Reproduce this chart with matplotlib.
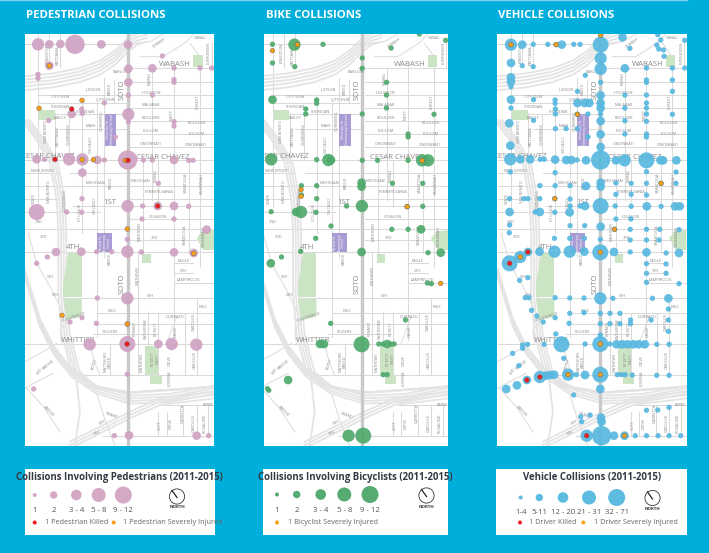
import matplotlib
matplotlib.use("Agg")
import numpy as np
import matplotlib.pyplot as plt
from matplotlib.patches import Rectangle, Polygon, Circle

W, H = 709, 553
BLUE = "#00aedb"
STREET = "#dadada"
FREEWAY = "#e4e4e4"
SOTO = "#c9c9c9"
PARK = "#cbe4c3"
SCHOOL = "#a99bd3"
LABEL = "#8c8c8c"
RED = "#f01c24"
ORANGE = "#f7a11a"

plt.rcParams["font.family"] = ["Open Sans", "DejaVu Sans"]

# point radius by collision bucket, in map units (1/3 pixel)
RADIUS = {1: 8, 2: 13, 3: 18.5, 4: 24, 5: 29}

# ---- collisions: (x, y, bucket) -------------------------------------------
ped_points = [
    (54, 133, 3), (88, 133, 2), (121, 132, 2), (165, 133, 5), (244, 133, 2), (324, 134, 2),
    (427, 168, 1), (88, 197, 2), (54, 223, 1), (54, 235, 1), (325, 206, 2), (397, 205, 2),
    (462, 204, 1), (540, 204, 1), (575, 204, 1), (325, 247, 2), (462, 239, 1), (462, 247, 1),
    (325, 286, 1), (397, 285, 1), (253, 309, 1), (185, 327, 1), (155, 342, 2), (187, 340, 1),
    (325, 343, 3), (325, 365, 1), (86, 361, 1), (462, 365, 1), (462, 378, 1), (286, 411, 1),
    (50, 478, 2), (73, 478, 1), (105, 478, 1), (147, 478, 3), (187, 478, 3), (232, 480, 2),
    (253, 480, 1), (323, 480, 5), (370, 480, 1), (397, 480, 1), (462, 480, 2), (506, 481, 1),
    (519, 481, 1), (187, 518, 2), (415, 550, 1), (186, 596, 1), (50, 636, 4), (140, 636, 1),
    (185, 637, 1), (323, 618, 3), (368, 618, 1), (413, 618, 2), (462, 618, 2), (506, 619, 1),
    (366, 657, 1), (462, 657, 1), (560, 689, 2), (322, 718, 1), (108, 756, 2), (184, 755, 2),
    (230, 755, 1), (275, 755, 1), (322, 755, 3), (364, 756, 1), (462, 757, 2), (521, 759, 2),
    (82, 771, 1), (50, 790, 1), (232, 894, 1), (322, 895, 3), (186, 953, 1), (150, 966, 1),
    (229, 970, 1), (322, 972, 1), (209, 1033, 3), (322, 1032, 4), (415, 1032, 2), (455, 1032, 3),
    (529, 1034, 3), (322, 1123, 1), (41, 1167, 1), (283, 1307, 1), (327, 1306, 2), (530, 1307, 2),
    (566, 1307, 1),
]
ped_injured = [(88, 197), (186, 301), (57, 325), (186, 479), (220, 479), (316, 481), (322, 687),
               (521, 760), (126, 946), (322, 972)]
ped_killed = [(155, 327), (105, 478), (324, 481), (413, 618), (321, 1032)]

bike_points = [
    (37, 133, 1), (103, 134, 3), (189, 133, 1), (558, 121, 1), (479, 102, 1), (394, 144, 1),
    (37, 189, 1), (104, 200, 1), (307, 174, 1), (307, 205, 1), (380, 247, 1), (380, 285, 1),
    (380, 324, 1), (37, 299, 2), (170, 300, 1), (170, 310, 1), (137, 327, 1), (137, 342, 1),
    (307, 342, 1), (523, 343, 1), (445, 402, 1), (445, 411, 1), (33, 478, 3), (170, 479, 1),
    (205, 480, 3), (213, 480, 2), (307, 481, 1), (353, 481, 1), (445, 481, 1), (487, 481, 3),
    (505, 481, 3), (305, 548, 2), (305, 560, 2), (398, 550, 1), (489, 550, 1), (124, 557, 1),
    (170, 557, 1), (124, 585, 1), (170, 596, 1), (33, 635, 1), (108, 636, 2), (123, 636, 3),
    (168, 637, 1), (260, 618, 1), (306, 618, 3), (442, 620, 1), (489, 619, 1), (213, 678, 1),
    (167, 715, 1), (396, 688, 1), (445, 688, 1), (484, 688, 2), (122, 754, 1), (64, 771, 1),
    (32, 790, 2), (305, 756, 2), (505, 758, 1), (543, 758, 2), (503, 849, 1), (515, 851, 1),
    (212, 970, 1), (437, 960, 1), (180, 1032, 2), (192, 1032, 2), (305, 1033, 4), (357, 1032, 1),
    (370, 1032, 1), (382, 1032, 2), (393, 1032, 1), (403, 1032, 1), (370, 1124, 1), (382, 1124, 1),
    (84, 1140, 2), (22, 1166, 1), (26, 1171, 1), (266, 1307, 3), (310, 1307, 4),
]
bike_injured = [(37, 152), (112, 134), (123, 569), (123, 589), (442, 620), (487, 482), (543, 850)]

veh_points = [
    (62, 134, 3), (96, 134, 2), (129, 133, 1), (173, 133, 1), (198, 134, 1), (215, 134, 2),
    (251, 133, 1), (270, 133, 1), (332, 134, 4), (332, 105, 1), (398, 112, 2), (504, 104, 1),
    (513, 120, 1), (585, 121, 1), (420, 145, 1), (501, 135, 1), (507, 147, 1), (521, 150, 1),
    (523, 169, 1), (332, 175, 3), (332, 207, 3), (62, 189, 2), (96, 197, 1), (129, 200, 1),
    (405, 205, 2), (470, 204, 1), (548, 204, 1), (585, 204, 1), (62, 232, 2), (62, 245, 2),
    (62, 260, 1), (286, 226, 1), (332, 247, 1), (470, 240, 1), (470, 247, 1), (548, 240, 1),
    (262, 274, 1), (405, 285, 1), (470, 285, 1), (548, 274, 1), (332, 286, 2), (62, 299, 2),
    (130, 299, 1), (195, 300, 1), (195, 310, 1), (262, 309, 2), (284, 309, 2), (298, 309, 2),
    (332, 309, 2), (332, 324, 2), (405, 324, 1), (470, 309, 1), (470, 324, 1), (62, 324, 1),
    (196, 327, 1), (196, 342, 1), (262, 343, 1), (294, 342, 1), (332, 342, 1), (470, 342, 1),
    (548, 343, 1), (130, 361, 1), (332, 363, 2), (405, 362, 1), (470, 364, 1), (57, 370, 2),
    (196, 386, 1), (228, 386, 1), (262, 386, 1), (332, 403, 2), (405, 402, 1), (470, 402, 1),
    (470, 411, 1), (294, 411, 1), (60, 437, 2), (332, 441, 2), (60, 478, 3), (90, 478, 2),
    (120, 478, 2), (150, 478, 1), (162, 478, 1), (195, 479, 2), (228, 480, 2), (244, 480, 2),
    (261, 480, 1), (288, 481, 2), (332, 480, 5), (378, 481, 2), (404, 481, 3), (470, 481, 4),
    (520, 481, 2), (512, 481, 2), (560, 481, 2), (470, 515, 1), (559, 516, 1), (60, 516, 1),
    (195, 518, 1), (332, 548, 2), (332, 560, 2), (378, 549, 1), (424, 550, 1), (470, 550, 1),
    (514, 550, 1), (559, 550, 1), (149, 557, 1), (195, 557, 1), (240, 557, 1), (288, 558, 2),
    (378, 583, 1), (424, 583, 1), (470, 585, 1), (58, 596, 1), (101, 596, 1), (113, 596, 1),
    (149, 596, 1), (194, 596, 1), (240, 597, 1), (240, 618, 1), (332, 618, 4), (376, 618, 1),
    (424, 619, 1), (471, 619, 2), (514, 619, 1), (556, 619, 2), (570, 619, 2), (58, 636, 2),
    (135, 636, 1), (149, 636, 2), (194, 637, 1), (239, 637, 2), (270, 618, 1), (285, 618, 2),
    (378, 657, 1), (423, 657, 1), (58, 675, 1), (240, 677, 1), (284, 677, 1), (332, 680, 2),
    (374, 688, 1), (57, 698, 1), (193, 715, 1), (239, 715, 1), (283, 715, 1), (331, 718, 1),
    (421, 688, 1), (470, 688, 1), (510, 688, 1), (568, 689, 1), (421, 720, 1), (470, 720, 1),
    (508, 720, 1), (58, 790, 4), (90, 771, 3), (113, 756, 2), (148, 755, 2), (193, 755, 3),
    (239, 755, 3), (283, 755, 2), (331, 757, 4), (372, 756, 2), (421, 756, 1), (470, 757, 2),
    (529, 759, 1), (568, 759, 2), (470, 791, 1), (529, 792, 1), (470, 820, 1), (529, 820, 1),
    (470, 847, 1), (568, 851, 1), (88, 841, 1), (113, 833, 1), (105, 893, 1), (116, 893, 1),
    (195, 893, 1), (239, 894, 1), (282, 894, 1), (331, 895, 3), (369, 895, 1), (488, 895, 1),
    (536, 895, 2), (536, 927, 1), (124, 931, 1), (140, 948, 1), (159, 966, 1), (195, 953, 1),
    (239, 940, 1), (282, 938, 1), (331, 940, 1), (360, 940, 1), (390, 940, 1), (422, 960, 1),
    (422, 971, 1), (484, 960, 1), (536, 960, 1), (237, 970, 1), (331, 971, 1), (360, 971, 1),
    (390, 971, 1), (536, 994, 1), (197, 1002, 1), (331, 1005, 1), (97, 1035, 1), (97, 1045, 1),
    (112, 1033, 1), (162, 1033, 1), (214, 1033, 4), (285, 1032, 1), (331, 1032, 4), (360, 1032, 1),
    (380, 1033, 2), (397, 1033, 2), (413, 1033, 2), (430, 1033, 2), (447, 1033, 2), (465, 1033, 2),
    (501, 1033, 1), (538, 1033, 1), (67, 1060, 1), (86, 1097, 1), (221, 1075, 1), (48, 1167, 2),
    (80, 1156, 2), (110, 1140, 2), (149, 1131, 3), (167, 1127, 2), (180, 1125, 2), (192, 1124, 2),
    (234, 1124, 3), (259, 1124, 1), (285, 1125, 2), (331, 1124, 4), (382, 1124, 1), (394, 1124, 1),
    (406, 1124, 1), (427, 1125, 1), (501, 1126, 1), (538, 1126, 1), (331, 1167, 2), (251, 1185, 1),
    (470, 1231, 1), (504, 1230, 1), (538, 1222, 1), (272, 1250, 1), (275, 1265, 1), (300, 1245, 1),
    (333, 1253, 2), (335, 1265, 2), (290, 1307, 3), (335, 1307, 5), (372, 1307, 2), (404, 1307, 2),
    (436, 1307, 1), (470, 1307, 1), (505, 1307, 1), (538, 1307, 1), (573, 1307, 1),
]
veh_injured = [(62, 134), (198, 134), (332, 105), (262, 343), (514, 550), (194, 596), (374, 688),
               (90, 771), (331, 757), (331, 1032), (234, 1124), (331, 1124), (404, 1307)]
veh_killed = [(58, 790), (113, 756), (149, 1131), (110, 1140), (290, 1307)]

# ---- base map, in the pedestrian panel's units ------------------------------
h_streets = [
    (133, 14, 340), (204, 310, 582), (247, 330, 582), (285, 54, 320), (285, 330, 582),
    (309, 54, 320), (324, 330, 582), (342, 54, 320), (362, 330, 582), (386, 120, 320),
    (403, 330, 582), (441, 330, 582), (480, 14, 582), (518, 14, 120), (518, 150, 582),
    (557, 14, 582), (596, 14, 110), (596, 330, 582), (618, 160, 582), (636, 14, 240),
    (657, 330, 582), (688, 14, 582), (720, 330, 582), (755, 14, 582), (790, 462, 520),
    (820, 462, 520), (850, 462, 582), (895, 130, 582), (940, 232, 582), (971, 232, 582),
    (1003, 220, 410), (1033, 14, 582), (1125, 160, 582), (1307, 250, 582), (1215, 430, 582),
]
v_streets = [
    (54, 102, 620), (88, 102, 200), (121, 102, 200), (105, 340, 480), (147, 345, 480),
    (187, 300, 700), (232, 300, 1010), (253, 235, 770), (282, 240, 310), (370, 480, 760),
    (397, 205, 600), (415, 480, 620), (462, 190, 1020), (506, 480, 760), (540, 190, 480),
    (540, 480, 800), (575, 130, 205), (353, 755, 1125), (385, 935, 1125), (415, 940, 1125),
    (495, 940, 1125), (530, 895, 1125), (415, 1235, 1307), (440, 1235, 1307), (490, 1215, 1307),
    (530, 1215, 1307), (565, 1215, 1307), (270, 1033, 1125),
]
diagonal_streets = [
    ([340, 390, 430], [130, 125, 102]),
    ([360, 430, 500, 520], [170, 170, 125, 102]),
    ([510, 540], [130, 170]),
    ([25, 50, 90, 130], [700, 790, 860, 940]),
    ([14, 60, 110], [1085, 1060, 1030]),
    ([20, 70, 120], [1165, 1220, 1295]),
    ([14, 60, 100], [1165, 1140, 1120]),
    ([230, 255, 285], [1180, 1260, 1338]),
    ([470, 455, 440], [950, 990, 1030]),
    ([145, 120, 125], [960, 990, 1030]),
    ([210, 225, 240], [1035, 1090, 1125]),
]
freeway_top_x = [14, 100, 180, 240, 285, 320, 350, 380]
freeway_top_y = [247, 238, 222, 200, 170, 135, 110, 102]
freeway_top_offsets = [-18, -8, 2, 12, 24]
freeway_left_x = [14, 60, 100, 120, 125, 125, 135, 165, 215, 330, 582]
freeway_left_y = [360, 420, 490, 600, 700, 880, 1000, 1115, 1160, 1178, 1160]
freeway_left_offsets = [-10, -2, 6, 14]
freeway_low_x = [14, 60, 100, 155, 230, 330, 450, 582]
freeway_low_y = [815, 965, 1045, 1115, 1165, 1195, 1190, 1165]
freeway_low_offsets = [-8, 0, 8, 16]
freeway_south_x = [150, 230, 330, 420, 582]
freeway_south_y = [1335, 1295, 1245, 1205, 1185]
freeway_south_offsets = [-10, 0, 10]
ramp_x = [165, 180, 165]
ramp_y = [1105, 1235, 1335]

parks = [
    [(57, 330), (104, 330), (104, 360), (57, 360)],
    [(520, 165), (548, 165), (548, 200), (520, 200)],
    [(145, 760), (185, 760), (185, 890), (130, 890), (130, 855)],
    [(130, 897), (185, 897), (185, 950), (140, 960)],
    [(366, 763), (392, 763), (392, 790), (366, 790)],
    [(530, 715), (545, 695), (582, 690), (582, 750), (550, 750)],
    [(375, 1037), (415, 1037), (415, 1125), (375, 1125)],
    [(390, 1127), (425, 1127), (425, 1153), (390, 1153)],
]
schools = [
    (254, 342, 34, 95, "Sheridan St\nElementary School"),
    (232, 699, 44, 56, "Breed St\nElementary\nSchool"),
]
# (x, y, text, rotation)
small_labels = [
    (540, 113, "CANAL", 0), (418, 130, "PENNSY", 35), (303, 217, "BARLOW", 0), (220, 267, "JUDSON", 0),
    (121, 292, "CITY VIEW", 0), (257, 301, "CITY VIEW", 0), (122, 320, "SHERIDAN", 0),
    (197, 335, "SHERIDAN", 0), (120, 354, "BAILEY", 0), (212, 378, "MAIN", 0), (393, 278, "HOUSTON", 0),
    (393, 316, "MALABAR", 0), (393, 355, "BOULDER", 0), (530, 370, "BOULDER", 0), (393, 394, "FOLSOM", 0),
    (530, 402, "FOLSOM", 0), (393, 433, "CINCINNATI", 0), (527, 436, "CINCINNATI", 0),
    (225, 550, "MICHIGAN", 0), (362, 542, "MICHIGAN", 0), (416, 576, "PENNSYLVANIA", 0),
    (414, 650, "GLEASON", 0), (66, 510, "NEW JERSEY", 0), (55, 667, "2ND", 0), (403, 713, "3RD", 0),
    (390, 887, "6TH", 0), (277, 932, "INEZ", 0), (548, 920, "INEZ", 0), (465, 952, "DUBRAZO", 0),
    (270, 997, "ROGERS", 0), (490, 784, "EAGLE", 0), (490, 813, "5TH", 0), (505, 841, "LAMPWOOD", 0),
    (90, 832, "5TH", 0), (105, 886, "6TH", 0), (72, 711, "3RD", 0), (160, 950, "HOLLENBECK", 18),
    (85, 1095, "BRIDGE", 40), (60, 1115, "3RD", 60), (85, 1235, "BRIDGE", -45), (246, 1266, "6TH", 30),
    (275, 1245, "GRAND", -20), (232, 1298, "6TH", 15), (563, 1215, "FARM", 0),
    (82, 160, "KINGSTON", 90), (113, 165, "BRITTANIA", 90), (270, 265, "BREED", 90), (390, 235, "EWING", 90),
    (455, 345, "MOTT", 90), (533, 307, "FOREST", 90), (567, 160, "EVERGREEN", 90), (78, 395, "SAN BENITO", 90),
    (113, 410, "BRITTANIA", 90), (147, 403, "CUMMINGS", 90), (212, 432, "CHICAGO", 90), (245, 360, "CORNWELL", 90),
    (272, 548, "BREED", 90), (408, 525, "EWING", 90), (497, 548, "SARATOGA", 90), (545, 550, "SAVANNAH", 90),
    (42, 595, "STATE", 90), (87, 575, "SAN BENITO", 90), (135, 600, "CUMMINGS", 90), (224, 615, "CHICAGO", 90),
    (179, 637, "ST LOUIS", 90), (358, 695, "MATHEWS", 90), (493, 705, "SARATOGA", 90), (552, 710, "SAVANNAH", 90),
    (268, 775, "BREED", 90), (353, 825, "MATHEWS", 90), (345, 985, "PENNSY", 90), (376, 985, "KATHERINE", 90),
    (407, 985, "FICKETT", 90), (466, 995, "DRIVE", 90), (520, 965, "CAROLUS", 90), (365, 1087, "MATHEWS", 90),
    (398, 1075, "FICKETT", 90), (413, 1075, "MOTT", 90), (448, 1080, "DRIVE", 90), (523, 1080, "CAROLUS", 90),
    (258, 1085, "MATTHEWS", 90), (270, 1085, "BREED", 90), (224, 1090, "BOYLE", 75), (448, 1135, "LORENA", 90),
    (420, 1275, "SOTT", 90), (453, 1270, "DRIVE", 90), (488, 1240, "DARRETTA", 90), (522, 1270, "CAROLUS", 90),
    (555, 1270, "ROSALIND", 90),
]
# (x, y, text, rotation)
big_labels = [
    (465, 194, "WABASH", 0), (306, 270, "SOTO", 90), (82, 468, "CESAR CHAVEZ", 0), (428, 473, "CESAR CHAVEZ", 0),
    (269, 607, "1ST", 0), (158, 743, "4TH", 0), (306, 850, "SOTO", 90), (175, 1020, "WHITTIER", 0),
]

# ---- legends ----------------------------------------------------------------
bucket_labels_a = ["1", "2", "3 - 4", "5 - 8", "9 - 12"]
bucket_labels_b = ["1-4", "5-11", "12 - 20", "21 - 31", "32 - 71"]
legend_radii = [2, 3.7, 5.3, 7, 8.5]
panel_colors = {"ped": "#cfa2c3", "bike": "#4fa96c", "veh": "#58b8df"}


def px_axes(fig, x0, y0, x1, y1):
    return fig.add_axes([x0 / W, 1 - y1 / H, (x1 - x0) / W, (y1 - y0) / H])


def draw_base(ax, shift):
    for y, x0, x1 in h_streets:
        ax.plot([x0 + shift, x1 + shift], [y, y], color=STREET, lw=0.75, zorder=1)
    for x, y0, y1 in v_streets:
        ax.plot([x + shift, x + shift], [y0, y1], color=STREET, lw=0.75, zorder=1)
    for xs, ys in diagonal_streets:
        ax.plot(np.array(xs) + shift, ys, color=STREET, lw=0.7, zorder=1)

    freeways = [
        (freeway_top_x, freeway_top_y, freeway_top_offsets, "y"),
        (freeway_left_x, freeway_left_y, freeway_left_offsets, "x"),
        (freeway_low_x, freeway_low_y, freeway_low_offsets, "y"),
        (freeway_south_x, freeway_south_y, freeway_south_offsets, "y"),
    ]
    for xs, ys, offsets, axis in freeways:
        for off in offsets:
            px = np.array(xs, dtype=float) + shift + (off if axis == "x" else 0)
            py = np.array(ys, dtype=float) + (off if axis == "y" else 0)
            ax.plot(px, py, color=FREEWAY, lw=1.3, solid_joinstyle="round", zorder=1.2)
    ax.plot(np.array(ramp_x) + shift, ramp_y, color=FREEWAY, lw=1.3, zorder=1.2)

    # Soto runs the whole height of the map
    ax.plot([323 + shift, 323 + shift], [102, 1338], color=SOTO, lw=2.4, zorder=1.5)

    for pts in parks:
        ax.add_patch(Polygon([(x + shift, y) for x, y in pts], fc=PARK, ec="none", zorder=1.8))
    for x, y, w, h, name in schools:
        ax.add_patch(Rectangle((x + shift, y), w, h, fc=SCHOOL, ec="none", zorder=1.8))
        ax.text(x + shift + w / 2, y + h / 2, name, color="white", fontsize=2.6, rotation=90,
                ha="center", va="center", linespacing=1.0, zorder=1.9, clip_on=True)

    for x, y, txt, rot in small_labels:
        ax.text(x + shift, y, txt, color=LABEL, fontsize=2.9, rotation=rot,
                ha="center", va="center", zorder=2, clip_on=True)
    for x, y, txt, rot in big_labels:
        ax.text(x + shift, y, txt, color="#8a8a8a", fontsize=5.6, rotation=rot,
                ha="center", va="center", zorder=2, clip_on=True)


def draw_points(ax, points, color, injured, killed):
    for x, y, bucket in points:
        ax.add_patch(Circle((x, y), RADIUS[bucket], fc=color, ec="none", alpha=0.92, zorder=3))
    for pts, col in ((injured, ORANGE), (killed, RED)):
        for x, y in pts:
            ax.add_patch(Circle((x, y), 7, fc=col, ec="#6a5a50", lw=0.3, zorder=4))


def draw_map(fig, box, xlim, shift, points, color, injured, killed):
    ax = px_axes(fig, *box)
    ax.set_xlim(*xlim)
    ax.set_ylim(1338, 102)
    ax.set_aspect("auto")
    ax.axis("off")
    ax.add_patch(Rectangle((xlim[0], 102), xlim[1] - xlim[0], 1236, fc="white", ec="none", zorder=0))
    draw_base(ax, shift)
    draw_points(ax, points, color, injured, killed)
    return ax


def draw_legend(bg, box, title, centers, labels, color, cy, label_y, entries, north):
    x0, y0, x1, y1 = box
    bg.add_patch(Rectangle((x0, y0), x1 - x0, y1 - y0, fc="white", ec="none", zorder=2))
    bg.text((x0 + x1) / 2, y0 + 8.5, title, color="#333a44", fontsize=6.9, fontweight="bold",
            ha="center", va="center", zorder=3)
    for cx, r, lab in zip(centers, legend_radii, labels):
        bg.add_patch(Circle((cx, cy), r, fc=color, ec="none", zorder=3))
        bg.text(cx, label_y, lab, color="#555555", fontsize=5.6, ha="center", va="center", zorder=3)
    for dot_x, text_x, dot_col, txt in entries:
        bg.add_patch(Circle((dot_x, 522.5), 2, fc=dot_col, ec="none", zorder=3))
        bg.text(text_x, 522.5, txt, color="#666666", fontsize=5.2, ha="left", va="center", zorder=3)
    nx, ny = north
    bg.add_patch(Circle((nx, ny), 7.6, fc="white", ec="#333333", lw=0.6, zorder=3))
    bg.plot([nx - 5, nx], [ny - 6, ny + 1], color="#222222", lw=0.9, zorder=4)
    bg.text(nx, ny + 11, "NORTH", color="#333333", fontsize=3.2, fontweight="bold",
            ha="center", va="center", zorder=3)


fig = plt.figure(figsize=(W / 100, H / 100), dpi=100, facecolor=BLUE)
bg = fig.add_axes([0, 0, 1, 1])
bg.set_xlim(0, W)
bg.set_ylim(H, 0)
bg.axis("off")
bg.plot([0, 687], [0.3, 0.3], color="#7fd0ea", lw=1, zorder=1)

for x, txt in ((26, "PEDESTRIAN COLLISIONS"), (265.5, "BIKE COLLISIONS"), (498, "VEHICLE COLLISIONS")):
    bg.text(x, 15.5, txt, color="white", fontsize=8.2, fontweight="bold", ha="left", va="center")

draw_map(fig, (24.7, 34, 214, 446), (14, 582), 0, ped_points, panel_colors["ped"], ped_injured, ped_killed)
draw_map(fig, (263.5, 34, 448, 446), (10, 565), -16, bike_points, panel_colors["bike"], bike_injured, [])
draw_map(fig, (497, 34, 687, 446), (20, 592), 8, veh_points, panel_colors["veh"], veh_injured, veh_killed)

draw_legend(bg, (24.7, 469, 215, 535), "Collisions Involving Pedestrians (2011-2015)",
            [34.7, 53.7, 76.3, 98.7, 123.3], bucket_labels_a, "#d5a9c6", 495, 511,
            [(34.7, 45, RED, "1 Pedestrian Killed"), (113.7, 123.3, ORANGE, "1 Pedestrian Severely Injured")],
            (177, 496.5))
draw_legend(bg, (263.3, 469, 448.3, 535), "Collisions Involving Bicyclists (2011-2015)",
            [277, 296.7, 320.7, 344.3, 370], bucket_labels_a, "#55ab72", 494.5, 511,
            [(277, 288.3, ORANGE, "1 Bicyclist Severely Injured")],
            (426.5, 495.5))
draw_legend(bg, (496.3, 469, 687.3, 535), "Vehicle Collisions (2011-2015)",
            [520.7, 539.3, 563, 589, 616.7], bucket_labels_b, "#5dbbe0", 497.5, 512,
            [(520, 529, RED, "1 Driver Killed"), (583.3, 593.7, ORANGE, "1 Driver Severely Injured")],
            (652.5, 498))

fig.savefig("out.png", dpi=100, facecolor=BLUE)
